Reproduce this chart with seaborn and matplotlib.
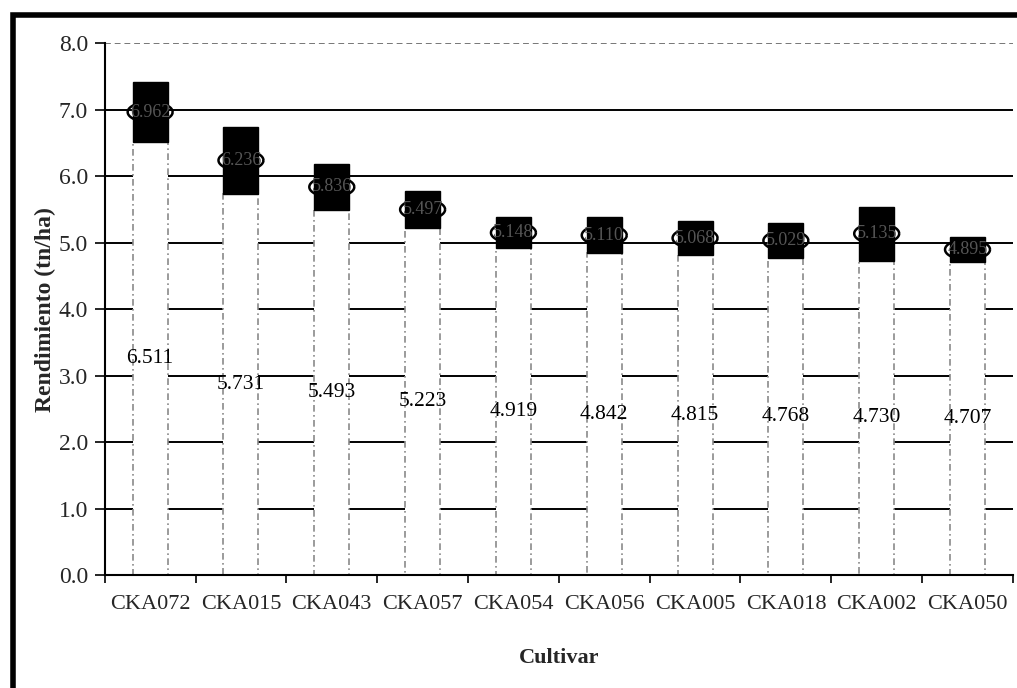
import numpy as np
import pandas as pd
import matplotlib
matplotlib.use("Agg")
import matplotlib.pyplot as plt
from matplotlib.patches import Rectangle
import seaborn as sns

# datos
cultivares = ['CKA072', 'CKA015', 'CKA043', 'CKA057', 'CKA054',
              'CKA056', 'CKA005', 'CKA018', 'CKA002', 'CKA050']
limite_inf = [6.511, 5.731, 5.493, 5.223, 4.919, 4.842, 4.815, 4.768, 4.730, 4.707]
media = [6.962, 6.236, 5.836, 5.497, 5.148, 5.110, 5.068, 5.029, 5.135, 4.895]
limite_sup = [7.41, 6.74, 6.18, 5.77, 5.38, 5.38, 5.32, 5.29, 5.53, 5.08]

df = pd.DataFrame({'Cultivar': cultivares, 'Inf': limite_inf,
                   'Media': media, 'Sup': limite_sup})

sns.set_style('white')
plt.rcParams['font.family'] = ['Liberation Serif', 'DejaVu Serif']

fig = plt.figure(figsize=(10.17, 6.88), dpi=100)
ax = fig.add_axes([0.103, 0.164, 0.893, 0.7735])

# barras blancas con borde punteado (limite inferior)
sns.barplot(data=df, x='Cultivar', y='Inf', color='white', width=0.385,
            edgecolor='#8a8a8a', linewidth=1.2, linestyle=(0, (4, 2, 1, 2)),
            saturation=1, ax=ax, zorder=2)

pos = np.arange(len(df))
# cajas negras desde el limite inferior al superior
ax.bar(pos, df['Sup'] - df['Inf'], bottom=df['Inf'], width=0.385,
       color='black', edgecolor='black', zorder=3)

# marcador de la media
t = np.linspace(0, 2 * np.pi, 60)
elipse = np.column_stack([np.cos(t), 0.45 * np.sin(t)])
ax.scatter(pos, df['Media'], marker=elipse, s=1050, facecolors='none',
           edgecolors='black', linewidths=1.8, zorder=4)
for x, m in zip(pos, df['Media']):
    ax.text(x, m, f'{m:.3f}', ha='center', va='center', fontsize=13,
            color='#555555', zorder=5)

# etiquetas del limite inferior al centro de la barra
for x, v in zip(pos, df['Inf']):
    ax.text(x, v / 2, f'{v:.3f}', ha='center', va='center', fontsize=15.5,
            color='black', zorder=5)

ax.set_ylim(0, 8)
ax.set_xlim(-0.5, len(df) - 0.5)
ax.set_yticks(np.arange(0, 9, 1))
ax.set_yticklabels([f'{v:.1f}' for v in np.arange(0, 9, 1)])
ax.yaxis.grid(True, color='black', linewidth=1.4)
ax.xaxis.grid(False)
ax.set_axisbelow(True)
gl = ax.get_ygridlines()
gl[-1].set_color('#777777')
gl[-1].set_linestyle((0, (3, 2)))
gl[-1].set_linewidth(1.4)

for s in ['top', 'right']:
    ax.spines[s].set_visible(False)
ax.spines['left'].set_color('black')
ax.spines['left'].set_linewidth(1.5)
ax.spines['bottom'].set_color('black')
ax.spines['bottom'].set_linewidth(1.5)

ax.set_xticks(pos)
ax.set_xticks(np.arange(-0.5, len(df), 1), minor=True)
ax.tick_params(axis='x', which='major', length=0, pad=14, labelsize=16)
ax.tick_params(axis='x', which='minor', length=6, width=1.2, direction='out',
               bottom=True, color='black')
ax.tick_params(axis='y', length=7, width=1.2, direction='out', left=True,
               labelsize=17, pad=5, color='black')

ax.set_xlabel('Cultivar', fontsize=16, fontweight='bold', labelpad=25)
ax.set_ylabel('Rendimiento (tn/ha)', fontsize=17, fontweight='bold', labelpad=2)

# marco grueso exterior
fig.patches.append(Rectangle((0.0123, -0.1), 1.2, 1.078, transform=fig.transFigure,
                             fill=False, edgecolor='black', linewidth=4, clip_on=False))

fig.savefig('out.png', dpi=100)
